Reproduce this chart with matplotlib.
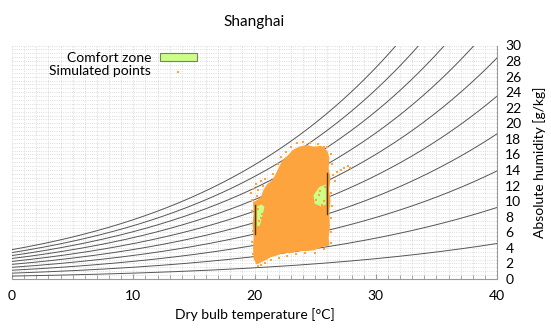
import numpy as np
import matplotlib
matplotlib.use("Agg")
import matplotlib.pyplot as plt
from matplotlib.path import Path
from matplotlib.patches import PathPatch

plt.rcParams['font.family'] = ['Lato', 'DejaVu Sans']

# relative humidity lines of the chart [%]
rh_lines = [10, 20, 30, 40, 50, 60, 70, 80, 90, 100]

# comfort zone: 20-26 degC, 40-65 % RH
comfort_t = [20, 26]
comfort_rh = [40, 65]

# outline of the dense cloud of simulated points (t [degC], w [g/kg])
cloud_t = [20.2, 20.0, 19.95, 20.0, 19.9, 20.0, 19.95, 20.3, 20.6, 20.8, 21.1, 21.5,
           21.8, 22.1, 22.4, 22.8, 23.2, 23.7, 24.3, 24.9, 25.5, 25.95, 26.1, 26.05,
           26.2, 26.1, 26.2, 26.1, 26.15, 26.05, 26.1, 25.5, 24.9, 24.3, 23.6, 22.9,
           22.4, 21.8, 21.3, 21.0, 20.6]
cloud_w = [2.0, 2.6, 4.0, 5.5, 7.0, 8.5, 9.8, 10.1, 10.5, 11.4, 12.1, 12.6,
           13.4, 14.4, 15.3, 15.8, 16.5, 16.9, 17.1, 16.9, 17.0, 16.4, 15.6, 14.2,
           13.0, 11.5, 10.0, 8.5, 6.8, 5.3, 4.4, 4.2, 3.8, 3.7, 3.7, 3.4,
           3.5, 3.1, 2.9, 2.6, 2.3]

# gaps in the cloud where the comfort zone shows through
gap1_t = [20.15, 20.15, 20.6, 20.9, 20.7, 20.5]
gap1_w = [6.6, 9.4, 9.7, 9.3, 8.0, 6.8]
gap2_t = [24.9, 24.8, 25.3, 25.95, 25.95, 25.5]
gap2_w = [9.6, 10.8, 11.9, 12.3, 9.5, 9.2]

# scattered points around the cloud and inside the gaps
pts_t = [19.7, 19.9, 20.1, 20.3, 20.5, 20.7, 20.9, 20.2, 19.8, 19.8, 19.85, 19.8,
         19.9, 21.5, 21.9, 22.2, 22.6, 23.0, 23.5, 24.0, 24.6, 25.2, 25.7, 26.0,
         26.3, 26.4, 26.5, 26.8, 27.1, 27.4, 27.7, 27.9, 26.6, 26.3, 26.4, 26.3,
         26.35, 26.3, 25.7, 25.0, 24.2, 23.4, 22.7, 22.0, 21.4, 20.9, 20.5, 20.3,
         20.4, 20.6, 20.3, 20.7, 25.1, 25.4, 25.7, 25.0, 25.6, 25.3, 20.5, 25.8]
pts_w = [11.0, 11.6, 12.2, 11.4, 12.6, 11.9, 12.8, 10.6, 10.2, 8.8, 6.2, 4.8,
         3.2, 13.5, 14.8, 15.7, 16.3, 17.0, 17.5, 17.6, 17.5, 17.4, 17.0, 16.9,
         16.0, 14.8, 13.4, 13.8, 14.0, 14.3, 14.5, 14.2, 12.6, 11.0, 9.4, 7.8,
         6.0, 4.6, 3.9, 3.4, 3.3, 3.2, 3.0, 2.7, 2.4, 2.1, 1.8, 1.7,
         7.5, 8.4, 9.0, 6.9, 10.2, 11.3, 10.0, 11.6, 9.5, 10.8, 7.9, 11.8]

P = 101.325


def hum(t, rh):
    es = 0.61094 * np.exp(17.625 * t / (t + 243.04))
    pv = rh / 100.0 * es
    return 622.0 * pv / (P - pv)


fig = plt.figure(figsize=(5.51, 3.29), dpi=100)
ax = fig.add_axes([12 / 551, 50 / 329, 485 / 551, 233.5 / 329])

T = np.linspace(0, 40, 300)
for rh in rh_lines:
    ax.plot(T, hum(T, rh), color='#555555', lw=0.7, zorder=2)

# comfort zone
tz = np.linspace(comfort_t[0], comfort_t[1], 50)
zx = np.concatenate([tz, tz[::-1]])
zy = np.concatenate([hum(tz, comfort_rh[0]), hum(tz[::-1], comfort_rh[1])])
ax.fill(zx, zy, facecolor='#CCFF88', edgecolor='#7A8060', lw=0.8, zorder=3,
        label='Comfort zone')

# cloud of simulated points with gaps
verts = list(zip(cloud_t, cloud_w)) + [(cloud_t[0], cloud_w[0])]
codes = [Path.MOVETO] + [Path.LINETO] * (len(cloud_t) - 1) + [Path.CLOSEPOLY]
for gt, gw in [(gap1_t, gap1_w), (gap2_t, gap2_w)]:
    g = list(zip(gt, gw))[::-1]
    verts += g + [g[0]]
    codes += [Path.MOVETO] + [Path.LINETO] * (len(g) - 1) + [Path.CLOSEPOLY]
ax.add_patch(PathPatch(Path(verts, codes), facecolor='#FDA43E', edgecolor='#FDA43E',
                       lw=1.2, zorder=4))
ax.scatter(pts_t, pts_w, s=3, marker='s', color='#FDA43E', lw=0, zorder=4,
           label='Simulated points')

# dark side edges of comfort zone
for t in comfort_t:
    ax.plot([t, t], [hum(t, comfort_rh[0]), hum(t, comfort_rh[1])], color='#4A3A20',
            lw=1.0, zorder=5)

ax.set_xlim(0, 40)
ax.set_ylim(0, 30)
ax.set_xticks([0, 10, 20, 30, 40])
ax.set_xticks(np.arange(0, 41, 1), minor=True)
ax.set_yticks(np.arange(0, 31, 2))
ax.set_yticks(np.arange(0, 30.1, 0.5), minor=True)
ax.yaxis.tick_right()
ax.yaxis.set_label_position('right')
ax.grid(which='both', color='#D0D0D0', lw=0.6, ls=':', zorder=0)
ax.set_axisbelow(True)
for s in ['left', 'top']:
    ax.spines[s].set_visible(False)
for s in ['right', 'bottom']:
    ax.spines[s].set_color('#999999')
ax.tick_params(axis='x', which='both', direction='in', colors='#999999',
               labelcolor='black', labelsize=10, pad=8)
ax.tick_params(axis='x', which='minor', length=3)
ax.tick_params(axis='y', which='both', length=0, labelsize=10, pad=6)

ax.set_xlabel('Dry bulb temperature [°C]', fontsize=10)
ax.set_ylabel('Absolute humidity [g/kg]', fontsize=10, labelpad=8)
ax.set_title('Shanghai', fontsize=11, pad=14)

leg = ax.legend(loc='upper right', bbox_to_anchor=(204 / 551, 1 - 45 / 329),
                bbox_transform=fig.transFigure, frameon=False, markerfirst=False,
                fontsize=10, handlelength=2.7, handleheight=0.6, borderpad=0,
                labelspacing=0.1, handletextpad=0.6, markerscale=0.7)

fig.savefig('out.png', dpi=100)
